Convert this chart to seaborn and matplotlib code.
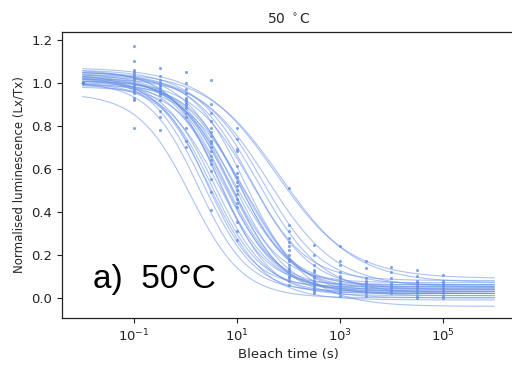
import numpy as np
import pandas as pd
import matplotlib
matplotlib.use("Agg")
import matplotlib.pyplot as plt
import matplotlib.ticker as mticker
import seaborn as sns

# ---- measured points (bleach time in s -> normalised Lx/Tx values) ----
times = [0.01, 0.1, 0.316, 1, 3.16, 10, 100, 316, 1000, 3162, 1e4, 3.16e4, 1e5]
pts_0_01 = [1.0] * 30
pts_0_1 = [1.17, 1.10, 1.06, 1.05, 1.04, 1.03, 1.02, 1.01, 1.0, 0.99, 0.98, 0.97, 0.96, 0.95, 0.93, 0.92, 0.79]
pts_0_316 = [1.07, 1.03, 1.01, 1.0, 0.99, 0.98, 0.97, 0.96, 0.95, 0.94, 0.92, 0.87, 0.84, 0.78]
pts_1 = [1.05, 1.0, 0.97, 0.95, 0.93, 0.92, 0.91, 0.90, 0.89, 0.88, 0.86, 0.84, 0.79, 0.73, 0.70]
pts_3_16 = [1.01, 0.90, 0.86, 0.82, 0.79, 0.77, 0.75, 0.73, 0.72, 0.70, 0.68, 0.66, 0.64, 0.62, 0.59, 0.55, 0.49, 0.41]
pts_10 = [0.79, 0.74, 0.69, 0.68, 0.61, 0.58, 0.56, 0.54, 0.52, 0.50, 0.48, 0.46, 0.44, 0.42, 0.35, 0.31, 0.27]
pts_100 = [0.51, 0.34, 0.31, 0.28, 0.26, 0.24, 0.22, 0.20, 0.18, 0.17, 0.15, 0.14, 0.13, 0.12, 0.10, 0.09, 0.08, 0.06]
pts_316 = [0.245, 0.20, 0.15, 0.13, 0.12, 0.10, 0.09, 0.08, 0.07, 0.06, 0.05, 0.04, 0.03, 0.02]
pts_1000 = [0.24, 0.17, 0.15, 0.12, 0.10, 0.09, 0.08, 0.07, 0.06, 0.05, 0.04, 0.03, 0.02, 0.01]
pts_3162 = [0.17, 0.14, 0.09, 0.08, 0.07, 0.06, 0.05, 0.04, 0.03, 0.02, 0.01]
pts_1e4 = [0.145, 0.12, 0.09, 0.07, 0.06, 0.05, 0.04, 0.03, 0.02]
pts_3e4 = [0.13, 0.10, 0.08, 0.07, 0.06, 0.05, 0.04, 0.03, 0.02, 0.01, 0.0]
pts_1e5 = [0.105, 0.08, 0.07, 0.06, 0.05, 0.04, 0.03, 0.02, 0.01, 0.0]
point_sets = [pts_0_01, pts_0_1, pts_0_316, pts_1, pts_3_16, pts_10, pts_100,
              pts_316, pts_1000, pts_3162, pts_1e4, pts_3e4, pts_1e5]

# ---- fitted curve parameters per sample ----
fit_mid_log = [0.10, 0.25, 0.35, 0.42, 0.47, 0.52, 0.57, 0.62, 0.66, 0.70,
               0.73, 0.76, 0.80, 0.83, 0.86, 0.90, 0.93, 0.96, 1.00, 1.05,
               1.10, 1.15, 1.20, 1.25, 1.30, 1.40, 1.50, 1.60, 1.75, 1.85]
fit_slope = [0.85, 0.90, 0.85, 0.95, 0.80, 0.90, 0.85, 0.95, 0.80, 0.90,
             0.85, 0.80, 0.90, 0.85, 0.80, 0.90, 0.75, 0.85, 0.80, 0.90,
             0.75, 0.85, 0.70, 0.80, 0.75, 0.70, 0.75, 0.65, 0.60, 0.60]
fit_top = [0.95, 1.00, 1.03, 1.01, 1.04, 0.99, 1.02, 1.05, 1.00, 1.03,
           1.01, 1.06, 0.98, 1.02, 1.04, 1.00, 1.03, 1.01, 1.05, 0.99,
           1.02, 1.04, 1.00, 1.03, 1.01, 1.06, 1.02, 1.04, 1.07, 1.05]
fit_floor = [0.00, 0.03, 0.02, 0.05, -0.01, 0.04, 0.02, 0.06, 0.03, 0.01,
             0.05, 0.02, 0.04, 0.07, 0.00, 0.03, 0.05, 0.02, 0.04, 0.06,
             0.01, 0.03, -0.04, 0.08, 0.04, 0.02, 0.06, 0.05, 0.09, 0.07]

title_text = "50 $^\\circ$C"
panel_label = "a)  50°C"
xlabel = "Bleach time (s)"
ylabel = "Normalised luminescence (Lx/Tx)"

# ---- build tables ----
pt_rows = []
for t, vals in zip(times, point_sets):
    for v in vals:
        pt_rows.append({"t": t, "y": v})
points_df = pd.DataFrame(pt_rows)

t_grid = np.logspace(-2, 6, 300)
curve_rows = []
for i, (m, k, a, c) in enumerate(zip(fit_mid_log, fit_slope, fit_top, fit_floor)):
    yv = c + (a - c) / (1.0 + 10.0 ** (k * (np.log10(t_grid) - m)))
    curve_rows.append(pd.DataFrame({"t": t_grid, "y": yv, "sample": i}))
curves_df = pd.concat(curve_rows, ignore_index=True)

# ---- plot ----
sns.set_style("ticks")
plt.rcParams["font.family"] = ["DejaVu Sans"]
fig = plt.figure(figsize=(5.12, 3.72), dpi=100)
ax = fig.add_axes([62 / 512, 54 / 372, 453 / 512, 286 / 372])

col = "#6A93E8"
sns.lineplot(data=curves_df, x="t", y="y", units="sample", estimator=None,
             color=col, linewidth=0.8, alpha=0.55, ax=ax, legend=False)
sns.scatterplot(data=points_df, x="t", y="y", color="#5C86DE", s=5,
                linewidth=0, alpha=0.75, ax=ax, legend=False)

ax.set_xscale("log")
ax.set_xlim(10 ** -2.4, 10 ** 6.4)
ax.set_ylim(-0.094, 1.235)
ax.xaxis.set_major_locator(mticker.FixedLocator([1e-1, 1e1, 1e3, 1e5]))
ax.xaxis.set_minor_locator(mticker.NullLocator())
ax.set_yticks([0.0, 0.2, 0.4, 0.6, 0.8, 1.0, 1.2])
ax.yaxis.set_major_formatter(mticker.FormatStrFormatter("%.1f"))
ax.tick_params(labelsize=9.5, length=3.5, width=0.8, colors="#222222")
for s in ax.spines.values():
    s.set_color("#222222")
    s.set_linewidth(0.9)

ax.set_title(title_text, fontsize=10, pad=6)
ax.set_xlabel(xlabel, fontsize=9.5, labelpad=3)
ax.set_ylabel(ylabel, fontsize=8.5, labelpad=4)
ax.text(0.068, 0.105, panel_label, transform=ax.transAxes,
        fontsize=24, family="Liberation Sans", color="black")

fig.savefig("out.png", dpi=100)
